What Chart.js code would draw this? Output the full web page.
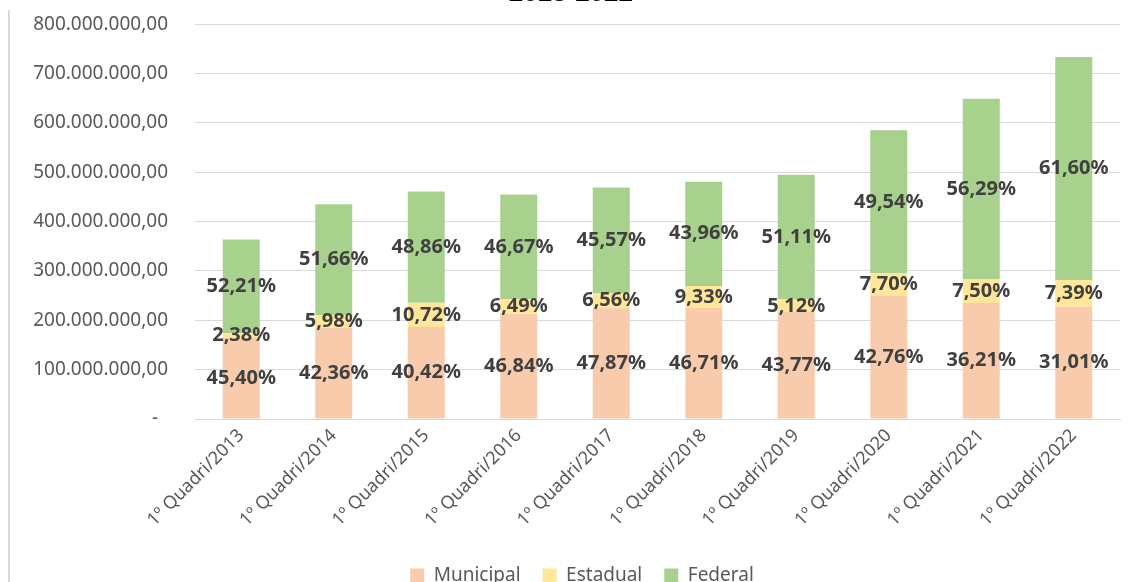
<!DOCTYPE html>
<html>
<head>
<meta charset="utf-8">
<script src="https://cdn.jsdelivr.net/npm/chart.js@4/dist/chart.umd.min.js"></script>
<style>
  html, body { margin: 0; padding: 0; background: #fff; }
  #frame { position: relative; width: 1135px; height: 582px; overflow: hidden; background: #fff; }
  #edge { position: absolute; left: 8px; top: 10px; bottom: 0; width: 2px; background: #d9d9d9; }
  #box { position: absolute; left: 0; top: -24px; width: 1135px; height: 622px; }
</style>
</head>
<body>
<div id="frame">
  <div id="edge"></div>
  <div id="box"><canvas id="chart"></canvas></div>
</div>
<script>
// ---------- data (values in millions) ----------
const categories = [
  "1º Quadri/2013", "1º Quadri/2014", "1º Quadri/2015", "1º Quadri/2016", "1º Quadri/2017",
  "1º Quadri/2018", "1º Quadri/2019", "1º Quadri/2020", "1º Quadri/2021", "1º Quadri/2022"
];
const municipal = [165.0, 184.3, 186.3, 213.1, 224.5, 224.7, 216.7, 250.1, 235.0, 227.5];
const estadual = [8.7, 26.0, 49.4, 29.5, 30.8, 44.9, 25.3, 45.0, 48.7, 54.2];
const federal = [189.8, 224.7, 225.2, 212.3, 213.7, 211.4, 253.0, 289.8, 365.3, 451.8];

const municipalPct = ["45,40%", "42,36%", "40,42%", "46,84%", "47,87%", "46,71%", "43,77%", "42,76%", "36,21%", "31,01%"];
const estadualPct = ["2,38%", "5,98%", "10,72%", "6,49%", "6,56%", "9,33%", "5,12%", "7,70%", "7,50%", "7,39%"];
const federalPct = ["52,21%", "51,66%", "48,86%", "46,67%", "45,57%", "43,96%", "51,11%", "49,54%", "56,29%", "61,60%"];

const yTickLabels = [
  "-  ", "100.000.000,00", "200.000.000,00", "300.000.000,00", "400.000.000,00",
  "500.000.000,00", "600.000.000,00", "700.000.000,00", "800.000.000,00"
];

// ---------- label plugin: percent text at centre of each segment ----------
const pctLabels = [municipalPct, estadualPct, federalPct];
const segmentLabels = {
  id: "segmentLabels",
  afterDatasetsDraw(chart) {
    const ctx = chart.ctx;
    ctx.save();
    ctx.font = "bold 20px 'Noto Sans'";
    ctx.fillStyle = "#404040";
    ctx.textAlign = "center";
    ctx.textBaseline = "middle";
    chart.data.datasets.forEach((ds, di) => {
      const meta = chart.getDatasetMeta(di);
      meta.data.forEach((bar, i) => {
        const p = bar.getProps(["x", "y", "base"], true);
        ctx.fillText(pctLabels[di][i], p.x, (p.y + p.base) / 2);
      });
    });
    ctx.restore();
  }
};

// legend sits a little right of centre in the original
const legendShift = {
  id: "legendShift",
  afterLayout(chart) {
    chart.legend.left += 22;
    chart.legend.right += 22;
  }
};

const tickColor = "#595959";
const gridColor = "#d9d9d9";

new Chart(document.getElementById("chart"), {
  type: "bar",
  data: {
    labels: categories,
    datasets: [
      { label: "Municipal", data: municipal, backgroundColor: "#f8cbad" },
      { label: "Estadual", data: estadual, backgroundColor: "#ffe699" },
      { label: "Federal", data: federal, backgroundColor: "#a9d18e" }
    ]
  },
  options: {
    responsive: true,
    maintainAspectRatio: false,
    animation: false,
    barPercentage: 0.4,
    categoryPercentage: 1.0,
    layout: { padding: { left: 0, right: 15, top: 0, bottom: 3 } },
    plugins: {
      title: {
        display: true,
        text: "   2013-2022",
        color: "#000",
        font: { family: "'Liberation Sans', Arial", size: 26, weight: "bold" },
        padding: { top: 2, bottom: 15 }
      },
      legend: {
        position: "bottom",
        labels: {
          color: tickColor,
          font: { family: "'Noto Sans'", size: 19 },
          boxWidth: 14,
          boxHeight: 14,
          padding: 22
        }
      },
      tooltip: { enabled: false }
    },
    scales: {
      x: {
        stacked: true,
        grid: { display: false, drawTicks: false },
        border: { display: true, color: gridColor },
        ticks: {
          color: tickColor,
          font: { family: "'Noto Sans'", size: 18 },
          minRotation: 45,
          maxRotation: 45,
          padding: 6
        },
        afterFit: (s) => { s.height = 125; }
      },
      y: {
        stacked: true,
        min: 0,
        max: 800,
        grid: { color: gridColor, drawTicks: false },
        border: { display: false },
        ticks: {
          stepSize: 100,
          color: tickColor,
          font: { family: "'Noto Sans'", size: 19 },
          padding: 27,
          callback: (v, i) => yTickLabels[i]
        },
        afterFit: (s) => { s.width = 195; }
      }
    }
  },
  plugins: [segmentLabels, legendShift]
});
</script>
</body>
</html>
